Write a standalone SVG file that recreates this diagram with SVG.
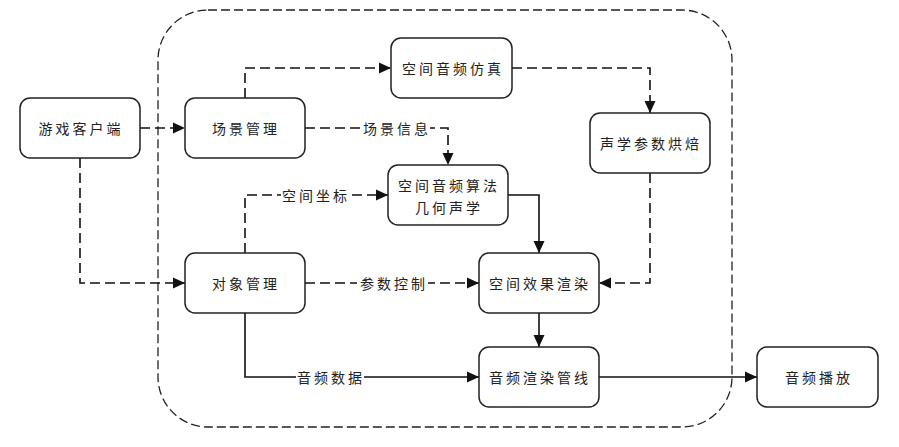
<svg xmlns="http://www.w3.org/2000/svg" width="899" height="447" viewBox="0 0 899 447">
<defs>
<style>
.box{fill:#fff;stroke:#222;stroke-width:1.5}
.t{font-family:"Noto Sans CJK SC","Noto Sans",sans-serif;font-size:14px;fill:#222;text-anchor:middle;dominant-baseline:central;letter-spacing:3px}
.d{fill:none;stroke:#111;stroke-width:1.6;stroke-dasharray:10 5}
.s{fill:none;stroke:#111;stroke-width:1.6}
.lb{fill:#fff}
</style>
<marker id="a" viewBox="0 0 12 12" refX="12" refY="6" markerWidth="12" markerHeight="12" markerUnits="userSpaceOnUse" orient="auto">
<path d="M0,0.5 L12,6 L0,11.5 z" fill="#111"/>
</marker>
</defs>
<rect x="0" y="0" width="899" height="447" fill="#fff"/>
<rect id="container" x="158" y="10" width="574" height="417" rx="50" ry="50" fill="none" stroke="#222" stroke-width="1.3" stroke-dasharray="9 4"/>

<g id="connectors">
<path class="d" d="M140,128 H185" marker-end="url(#a)"/>
<path class="d" d="M80,158 V283 H185" marker-end="url(#a)"/>
<path class="d" d="M245,98 V68 H391" marker-end="url(#a)"/>
<path class="d" d="M305,128 H448 V165" marker-end="url(#a)"/>
<path class="d" d="M512,68 H650 V113" marker-end="url(#a)"/>
<path class="d" d="M650,173 V283 H599" marker-end="url(#a)"/>
<path class="d" d="M245,253 V195 H388" marker-end="url(#a)"/>
<path class="s" d="M508,195 H539 V253" marker-end="url(#a)"/>
<path class="d" d="M305,283 H479" marker-end="url(#a)"/>
<path class="s" d="M539,313 V347" marker-end="url(#a)"/>
<path class="s" d="M245,313 V377 H479" marker-end="url(#a)"/>
<path class="s" d="M599,377 H757" marker-end="url(#a)"/>
<rect class="lb" x="361" y="119" width="69" height="18"/>
<text class="t" x="397" y="128">场景信息</text>
<rect class="lb" x="281" y="186" width="68" height="18"/>
<text class="t" x="316" y="195">空间坐标</text>
<rect class="lb" x="357" y="274" width="71" height="18"/>
<text class="t" x="394" y="283">参数控制</text>
<rect class="lb" x="296" y="368" width="68" height="18"/>
<text class="t" x="331" y="377">音频数据</text>
</g>

<g id="game-client"><rect class="box" x="20" y="98" width="120" height="60" rx="10"/><text class="t" x="81" y="128">游戏客户端</text></g>
<g id="scene-mgmt"><rect class="box" x="185" y="98" width="120" height="60" rx="10"/><text class="t" x="246" y="128">场景管理</text></g>
<g id="spatial-sim"><rect class="box" x="391" y="38" width="121" height="60" rx="10"/><text class="t" x="453" y="68">空间音频仿真</text></g>
<g id="geo-acoustics"><rect class="box" x="388" y="165" width="120" height="60" rx="10"/><text class="t" x="449" y="185">空间音频算法</text><text class="t" x="449" y="207">几何声学</text></g>
<g id="param-bake"><rect class="box" x="590" y="113" width="120" height="60" rx="10"/><text class="t" x="651" y="143">声学参数烘焙</text></g>
<g id="object-mgmt"><rect class="box" x="185" y="253" width="120" height="60" rx="10"/><text class="t" x="246" y="283">对象管理</text></g>
<g id="spatial-render"><rect class="box" x="479" y="253" width="120" height="60" rx="10"/><text class="t" x="540" y="283">空间效果渲染</text></g>
<g id="render-pipeline"><rect class="box" x="479" y="347" width="120" height="60" rx="10"/><text class="t" x="540" y="377">音频渲染管线</text></g>
<g id="audio-play"><rect class="box" x="757" y="347" width="121" height="60" rx="10"/><text class="t" x="819" y="377">音频播放</text></g>
</svg>
